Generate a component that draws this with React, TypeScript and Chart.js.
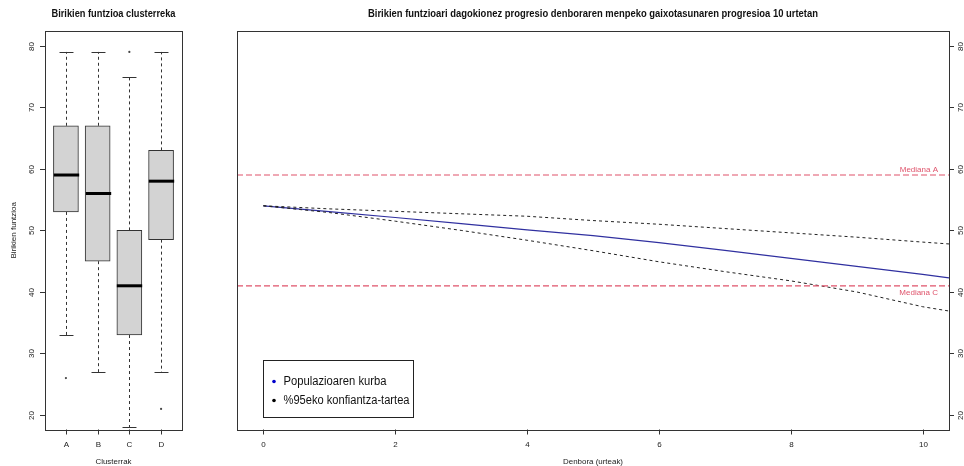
import React, { useEffect, useRef } from "react";
import { Chart, registerables } from "chart.js";

Chart.register(...registerables);

// Boxplot summary per cluster
const clusters = ["A", "B", "C", "D"];
const whiskerLow = [33, 27, 18, 27];
const quartile1 = [53, 45, 33, 48.5];
const medians = [59, 56, 41, 58];
const quartile3 = [67, 67, 50, 63];
const whiskerHigh = [79, 79, 75, 79];
const outlierCluster = [1, 3, 4];
const outlierValue = [26, 79, 21];

// Progression over time (years)
const years = [0, 1, 2, 3, 4, 5, 6, 7, 8, 9, 10, 10.4];
const populationCurve = [54, 53.05, 52.1, 51.1, 50.1, 49.15, 48.0, 46.75, 45.45, 44.15, 42.85, 42.3];
const upperBand = [54, 53.5, 53.1, 52.7, 52.3, 51.6, 51.0, 50.3, 49.6, 48.9, 48.1, 47.8];
const lowerBand = [54, 52.9, 51.5, 50.0, 48.4, 46.7, 44.9, 43.3, 41.8, 40.0, 37.6, 36.9];

const medianA = 59;
const medianC = 41;

const yTicks = [20, 30, 40, 50, 60, 70, 80];
const timeTicks = [0, 2, 4, 6, 8, 10];

const FONT = "'Liberation Sans', Arial, sans-serif";
const Y_MIN = 17.65;
const Y_MAX = 82.4;
const RED = "#DF536B";

type AxisCfg = {
  id: string;
  ySide: "left" | "right";
  xTicks: { value: number; label: string }[];
  title: string;
  titleWidth: number;
  xTitle: string;
  xTitleWidth: number;
  yTitle?: string;
};

function axesPlugin(cfg: AxisCfg) {
  return {
    id: cfg.id,
    afterDraw(chart: any) {
      const { ctx, chartArea } = chart;
      const xs = chart.scales.x;
      const ys = chart.scales.y;
      const { left, right, top, bottom } = chartArea;
      ctx.save();
      // frame
      ctx.strokeStyle = "#333";
      ctx.lineWidth = 1;
      ctx.setLineDash([]);
      ctx.strokeRect(Math.round(left) + 0.5, Math.round(top) + 0.5, Math.round(right - left), Math.round(bottom - top));

      ctx.fillStyle = "#222";
      // x ticks
      ctx.font = `8px ${FONT}`;
      ctx.textAlign = "center";
      ctx.textBaseline = "middle";
      for (const t of cfg.xTicks) {
        const px = Math.round(xs.getPixelForValue(t.value)) + 0.5;
        ctx.beginPath();
        ctx.moveTo(px, bottom);
        ctx.lineTo(px, bottom + 5);
        ctx.stroke();
        ctx.fillText(t.label, px, bottom + 15);
      }
      // y ticks (rotated labels)
      for (const v of yTicks) {
        const py = Math.round(ys.getPixelForValue(v)) + 0.5;
        ctx.beginPath();
        if (cfg.ySide === "left") {
          ctx.moveTo(left, py);
          ctx.lineTo(left - 5, py);
        } else {
          ctx.moveTo(right, py);
          ctx.lineTo(right + 5, py);
        }
        ctx.stroke();
        const lx = cfg.ySide === "left" ? left - 13 : right + 12;
        ctx.save();
        ctx.translate(lx, py);
        ctx.rotate(-Math.PI / 2);
        ctx.fillText(String(v), 0, 0);
        ctx.restore();
      }
      // titles
      const cx = (left + right) / 2;
      ctx.font = `bold 10px ${FONT}`;
      ctx.fillStyle = "#111";
      ctx.fillText(cfg.title, cx, 14.5, cfg.titleWidth);
      ctx.font = `8px ${FONT}`;
      ctx.fillStyle = "#222";
      ctx.fillText(cfg.xTitle, cx, 462, cfg.xTitleWidth);
      if (cfg.yTitle) {
        ctx.save();
        ctx.translate(14, (top + bottom) / 2);
        ctx.rotate(-Math.PI / 2);
        ctx.fillText(cfg.yTitle, 0, 0, 64);
        ctx.restore();
      }
      ctx.restore();
    },
  };
}

// Whiskers, caps, medians and outliers drawn from the scales
const boxDetails = {
  id: "boxDetails",
  afterDatasetsDraw(chart: any) {
    const { ctx } = chart;
    const xs = chart.scales.x;
    const ys = chart.scales.y;
    const half = xs.getPixelForValue(1.4) - xs.getPixelForValue(1);
    const cap = xs.getPixelForValue(1.22) - xs.getPixelForValue(1);
    ctx.save();
    clusters.forEach((_, i) => {
      const x = Math.round(xs.getPixelForValue(i + 1)) + 0.5;
      const yHi = ys.getPixelForValue(whiskerHigh[i]);
      const yQ3 = ys.getPixelForValue(quartile3[i]);
      const yQ1 = ys.getPixelForValue(quartile1[i]);
      const yLo = ys.getPixelForValue(whiskerLow[i]);
      const yMed = ys.getPixelForValue(medians[i]);
      ctx.strokeStyle = "#333";
      ctx.lineWidth = 1;
      ctx.setLineDash([3, 3]);
      ctx.beginPath();
      ctx.moveTo(x, yQ3);
      ctx.lineTo(x, yHi);
      ctx.moveTo(x, yQ1);
      ctx.lineTo(x, yLo);
      ctx.stroke();
      ctx.setLineDash([]);
      ctx.beginPath();
      ctx.moveTo(x - cap, Math.round(yHi) + 0.5);
      ctx.lineTo(x + cap, Math.round(yHi) + 0.5);
      ctx.moveTo(x - cap, Math.round(yLo) + 0.5);
      ctx.lineTo(x + cap, Math.round(yLo) + 0.5);
      ctx.stroke();
      ctx.strokeStyle = "#000";
      ctx.lineWidth = 3;
      ctx.beginPath();
      ctx.moveTo(x - half, yMed);
      ctx.lineTo(x + half, yMed);
      ctx.stroke();
    });
    ctx.restore();
  },
};

// Median labels and legend for the progression panel
const progressionExtras = {
  id: "progressionExtras",
  afterDraw(chart: any) {
    const { ctx, chartArea } = chart;
    const ys = chart.scales.y;
    const xs = chart.scales.x;
    ctx.save();
    ctx.font = `8px ${FONT}`;
    ctx.fillStyle = RED;
    ctx.textAlign = "right";
    ctx.textBaseline = "middle";
    ctx.fillText("Mediana A", chartArea.right - 11, ys.getPixelForValue(medianA) - 5.5);
    ctx.fillText("Mediana C", chartArea.right - 11, ys.getPixelForValue(medianC) + 7.5);

    // legend box
    const lx = Math.round(xs.getPixelForValue(0)) + 0.5;
    const ly = 360.5;
    ctx.strokeStyle = "#222";
    ctx.lineWidth = 1;
    ctx.strokeRect(lx, ly, 150, 57);
    const items = [
      { label: "Populazioaren kurba", color: "#0000cc" },
      { label: "%95eko konfiantza-tartea", color: "#000" },
    ];
    ctx.textAlign = "left";
    ctx.font = `12px ${FONT}`;
    items.forEach((it, i) => {
      const yy = ly + 21 + i * 19;
      ctx.fillStyle = it.color;
      ctx.beginPath();
      ctx.arc(lx + 10.5, yy, 1.8, 0, Math.PI * 2);
      ctx.fill();
      ctx.fillStyle = "#111";
      ctx.fillText(it.label, lx + 20, yy, it.label.length > 20 ? 126 : 103);
    });
    ctx.restore();
  },
};

export default function App() {
  const boxRef = useRef<HTMLCanvasElement>(null);
  const lineRef = useRef<HTMLCanvasElement>(null);

  useEffect(() => {
    const boxChart = new Chart(boxRef.current!, {
      type: "bar",
      data: {
        datasets: [
          {
            type: "bar",
            data: clusters.map((_, i) => ({ x: i + 1, y: [quartile1[i], quartile3[i]] })) as any,
            backgroundColor: "#d3d3d3",
            borderColor: "#333",
            borderWidth: 1,
            borderSkipped: false,
            barThickness: 25,
          } as any,
          {
            type: "scatter",
            data: outlierCluster.map((c, i) => ({ x: c, y: outlierValue[i] })),
            pointRadius: 1.1,
            pointBackgroundColor: "#444",
            pointBorderWidth: 0,
          } as any,
        ],
      },
      options: {
        animation: false,
        responsive: false,
        devicePixelRatio: 1,
        layout: { padding: { left: 45, right: 48, top: 31, bottom: 36.5 } },
        plugins: { legend: { display: false }, tooltip: { enabled: false } },
        scales: {
          x: { type: "linear", min: 0.34, max: 4.66, offset: false, display: false },
          y: { type: "linear", min: Y_MIN, max: Y_MAX, display: false },
        },
      },
      plugins: [
        boxDetails,
        axesPlugin({
          id: "boxAxes",
          ySide: "left",
          xTicks: clusters.map((c, i) => ({ value: i + 1, label: c })),
          title: "Birikien funtzioa clusterreka",
          titleWidth: 124,
          xTitle: "Clusterrak",
          xTitleWidth: 36,
          yTitle: "Birikien funtzioa",
        }),
      ],
    });

    const pts = (vals: number[]) => years.map((x, i) => ({ x, y: vals[i] }));
    const lineChart = new Chart(lineRef.current!, {
      type: "line",
      data: {
        datasets: [
          {
            data: [{ x: -0.4, y: medianA }, { x: 10.4, y: medianA }],
            borderColor: RED,
            borderWidth: 1.2,
            borderDash: [6, 3],
            pointRadius: 0,
          },
          {
            data: [{ x: -0.4, y: medianC }, { x: 10.4, y: medianC }],
            borderColor: RED,
            borderWidth: 1.2,
            borderDash: [6, 3],
            pointRadius: 0,
          },
          {
            data: pts(upperBand),
            borderColor: "#222",
            borderWidth: 1,
            borderDash: [3, 3],
            pointRadius: 0,
          },
          {
            data: pts(lowerBand),
            borderColor: "#222",
            borderWidth: 1,
            borderDash: [3, 3],
            pointRadius: 0,
          },
          {
            data: pts(populationCurve),
            borderColor: "#3030a0",
            borderWidth: 1.2,
            pointRadius: 0,
          },
        ],
      },
      options: {
        animation: false,
        responsive: false,
        devicePixelRatio: 1,
        layout: { padding: { left: 7, right: 15, top: 31, bottom: 36.5 } },
        plugins: { legend: { display: false }, tooltip: { enabled: false } },
        scales: {
          x: { type: "linear", min: -0.4, max: 10.4, display: false },
          y: { type: "linear", min: Y_MIN, max: Y_MAX, display: false },
        },
      },
      plugins: [
        progressionExtras,
        axesPlugin({
          id: "lineAxes",
          ySide: "right",
          xTicks: timeTicks.map((t) => ({ value: t, label: String(t) })),
          title: "Birikien funtzioari dagokionez progresio denboraren menpeko gaixotasunaren progresioa 10 urtetan",
          titleWidth: 450,
          xTitle: "Denbora (urteak)",
          xTitleWidth: 60,
        }),
      ],
    });

    return () => {
      boxChart.destroy();
      lineChart.destroy();
    };
  }, []);

  return (
    <div style={{ position: "absolute", left: 0, top: 0, width: 964, height: 466, background: "#fff" }}>
      <canvas ref={boxRef} width={230} height={466} style={{ position: "absolute", left: 0, top: 0 }} />
      <canvas ref={lineRef} width={734} height={466} style={{ position: "absolute", left: 230, top: 0 }} />
    </div>
  );
}
